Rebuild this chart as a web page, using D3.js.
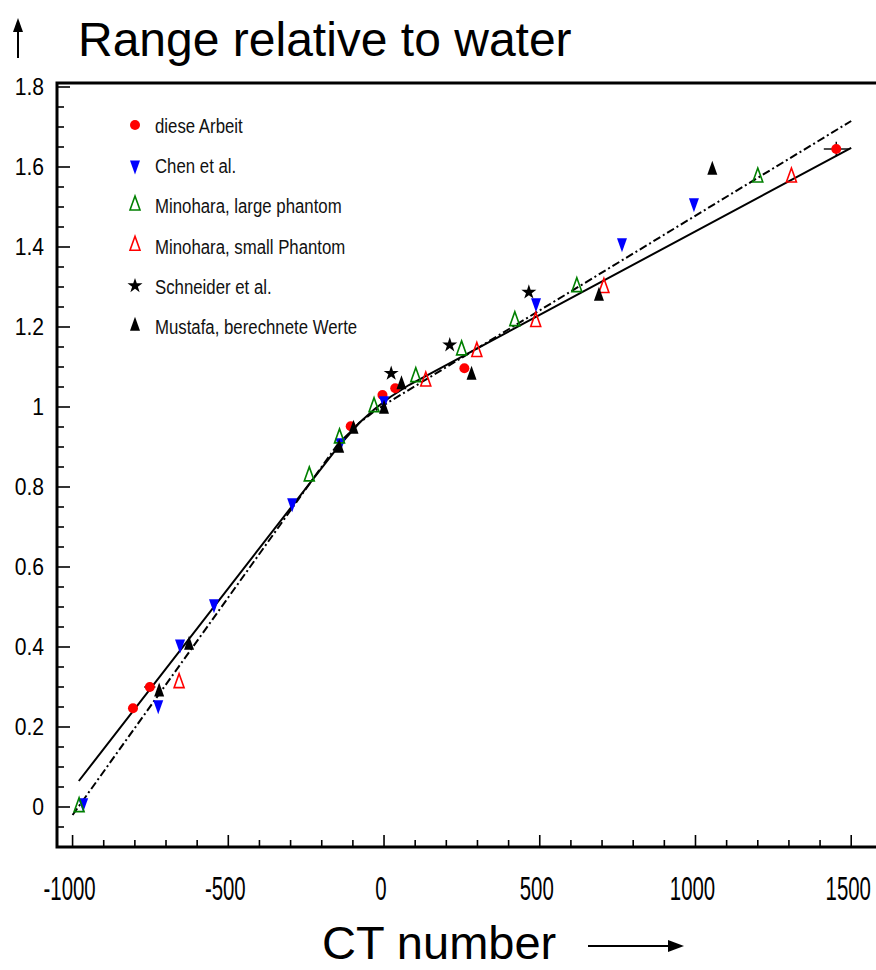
<!DOCTYPE html>
<html>
<head>
<meta charset="utf-8">
<script src="https://cdn.jsdelivr.net/npm/d3@7"></script>
<style>
  html, body { margin: 0; padding: 0; background: #fff; }
  svg { display: block; }
</style>
</head>
<body>
<svg id="chart" width="876" height="970"></svg>
<script>
// ---- data ---------------------------------------------------------------
const xTickValues = [-1000, -500, 0, 500, 1000, 1500];
const xTickLabels = ["-1000", "-500", "0", "500", "1000", "1500"];
const yTickValues = [0, 0.2, 0.4, 0.6, 0.8, 1.0, 1.2, 1.4, 1.6, 1.8];
const yTickLabels = ["0", "0.2", "0.4", "0.6", "0.8", "1", "1.2", "1.4", "1.6", "1.8"];

const seriesNames = [
  "diese Arbeit",
  "Chen et al.",
  "Minohara, large phantom",
  "Minohara, small Phantom",
  "Schneider et al.",
  "Mustafa, berechnete Werte"
];

// [CT number, range relative to water]
const dieseArbeit = [[-806, 0.247], [-752, 0.300], [-107, 0.952], [-5, 1.030], [36, 1.047], [258, 1.097], [1452, 1.645]];
const dieseArbeitErrX = [0, 18, 0, 0, 0, 0, 40];
const dieseArbeitErrY = [0, 0.012, 0, 0, 0, 0, 0.018];
const chen = [[-966, 0.010], [-725, 0.255], [-655, 0.407], [-546, 0.508], [-295, 0.760], [-140, 0.910], [0, 1.015], [488, 1.260], [764, 1.410], [995, 1.510]];
const minoharaLarge = [[-979, 0.000], [-240, 0.827], [-143, 0.922], [-32, 1.000], [102, 1.075], [249, 1.142], [420, 1.215], [619, 1.300], [1200, 1.574]];
const minoharaSmall = [[-658, 0.310], [134, 1.064], [298, 1.138], [487, 1.213], [706, 1.298], [1308, 1.574]];
const schneider = [[23, 1.084], [211, 1.155], [465, 1.287]];
const mustafa = [[-722, 0.288], [-626, 0.405], [-144, 0.897], [-98, 0.945], [0, 0.995], [56, 1.056], [281, 1.080], [690, 1.277], [1054, 1.592]];

// calibration curves
const solidFit = [[-980, 0.065], [-150, 0.898], [-80, 0.960], [-30, 0.995], [20, 1.025], [80, 1.055], [1500, 1.648]];
const dashedFit = [[-1000, -0.020], [-150, 0.905], [-80, 0.960], [-30, 0.990], [0, 1.005], [1500, 1.715]];

// ---- layout -------------------------------------------------------------
const svg = d3.select("#chart");
const plotLeft = 57, plotRight = 878, plotTop = 83, plotBottom = 847;

const x = d3.scaleLinear().domain([-1050, 1586]).range([plotLeft, plotRight]);
const y = d3.scaleLinear().domain([-0.1, 1.81]).range([plotBottom, plotTop]);

const sansFont = "'Liberation Sans', Arial, Helvetica, sans-serif";

// ---- marker shapes --------------------------------------------------------
function triPath(w, h, down) {
  const s = down ? -1 : 1;
  return `M0,${-s * h * 2 / 3}L${w / 2},${s * h / 3}L${-w / 2},${s * h / 3}Z`;
}
const starPath = d3.symbol().type(d3.symbolStar).size(70)();

const markerStyles = [
  { kind: "circle", fill: "#ff0000", stroke: "none" },
  { kind: "path", d: triPath(10, 14, true), fill: "#0000ff", stroke: "none" },
  { kind: "path", d: triPath(10, 14, false), fill: "none", stroke: "#008000" },
  { kind: "path", d: triPath(10, 14, false), fill: "none", stroke: "#ff0000" },
  { kind: "path", d: starPath, fill: "#000", stroke: "none" },
  { kind: "path", d: triPath(10, 14, false), fill: "#000", stroke: "none" }
];

function drawMarker(g, style) {
  if (style.kind === "circle") {
    g.append("circle").attr("r", 5).attr("fill", style.fill);
  } else {
    g.append("path").attr("d", style.d)
      .attr("fill", style.fill)
      .attr("stroke", style.stroke)
      .attr("stroke-width", style.stroke === "none" ? 0 : 1.6);
  }
}

// ---- frame and ticks ------------------------------------------------------
const frame = svg.append("g");
frame.append("path")
  .attr("d", `M${plotRight},${plotTop}H${plotLeft}V${plotBottom}H${plotRight}`)
  .attr("fill", "none").attr("stroke", "#000").attr("stroke-width", 3);

// y ticks (minor every 0.05, major every 0.2)
const yMinor = d3.range(-0.05, 1.8001, 0.05).map(v => +v.toFixed(2));
frame.selectAll("line.ytick").data(yMinor).join("line")
  .attr("class", "ytick")
  .attr("x1", plotLeft)
  .attr("x2", d => plotLeft + (yTickValues.some(t => Math.abs(t - d) < 1e-6) ? 13 : 7))
  .attr("y1", d => y(d)).attr("y2", d => y(d))
  .attr("stroke", "#000").attr("stroke-width", 1.6);

// x ticks (minor every 100, major every 500)
const xMinor = d3.range(-1000, 1501, 100);
frame.selectAll("line.xtick").data(xMinor).join("line")
  .attr("class", "xtick")
  .attr("x1", d => x(d)).attr("x2", d => x(d))
  .attr("y1", plotBottom)
  .attr("y2", d => plotBottom - (xTickValues.includes(d) ? 12 : 7))
  .attr("stroke", "#000").attr("stroke-width", 1.6);

// tick labels
svg.append("g").selectAll("text").data(yTickValues).join("text")
  .attr("transform", d => `translate(44,${y(d) + 8}) scale(0.88,1)`)
  .attr("text-anchor", "end")
  .attr("font-family", sansFont).attr("font-size", 24)
  .text((d, i) => yTickLabels[i]);

svg.append("g").selectAll("text").data(xTickValues).join("text")
  .attr("transform", d => `translate(${x(d) - 3},900) scale(0.6,1)`)
  .attr("text-anchor", "middle")
  .attr("font-family", sansFont).attr("font-size", 34)
  .text((d, i) => xTickLabels[i]);

// ---- fit lines ------------------------------------------------------------
const line = d3.line().x(d => x(d[0])).y(d => y(d[1]));
svg.append("path").datum(solidFit).attr("d", line)
  .attr("fill", "none").attr("stroke", "#000").attr("stroke-width", 2);
svg.append("path").datum(dashedFit).attr("d", line)
  .attr("fill", "none").attr("stroke", "#000").attr("stroke-width", 2)
  .attr("stroke-dasharray", "8,3,2,3");

// ---- data markers ----------------------------------------------------------
const allSeries = [dieseArbeit, chen, minoharaLarge, minoharaSmall, schneider, mustafa];

// error bars for own measurements
const errG = svg.append("g").attr("stroke", "#000").attr("stroke-width", 1.4);
dieseArbeit.forEach((d, i) => {
  if (dieseArbeitErrX[i] > 0) {
    errG.append("line")
      .attr("x1", x(d[0] - dieseArbeitErrX[i])).attr("x2", x(d[0] + dieseArbeitErrX[i]))
      .attr("y1", y(d[1])).attr("y2", y(d[1]));
  }
  if (dieseArbeitErrY[i] > 0) {
    errG.append("line")
      .attr("x1", x(d[0])).attr("x2", x(d[0]))
      .attr("y1", y(d[1] - dieseArbeitErrY[i])).attr("y2", y(d[1] + dieseArbeitErrY[i]));
  }
});

allSeries.forEach((data, si) => {
  const g = svg.append("g");
  data.forEach(d => {
    const m = g.append("g").attr("transform", `translate(${x(d[0])},${y(d[1])})`);
    drawMarker(m, markerStyles[si]);
  });
});

// ---- legend -----------------------------------------------------------------
const legend = svg.append("g");
seriesNames.forEach((name, i) => {
  const cy = 125 + i * 40.2;
  const m = legend.append("g").attr("transform", `translate(135,${cy})`);
  drawMarker(m, markerStyles[i]);
  legend.append("text")
    .attr("transform", `translate(155,${cy + 8}) scale(0.8,1)`)
    .attr("font-family", sansFont).attr("font-size", 21)
    .attr("fill", "#111")
    .text(name);
});

// ---- axis titles --------------------------------------------------------------
// vertical arrow before the y title
svg.append("line").attr("x1", 18).attr("x2", 18).attr("y1", 58).attr("y2", 30)
  .attr("stroke", "#000").attr("stroke-width", 2);
svg.append("path").attr("d", "M18,18L13,32L23,32Z").attr("fill", "#000");
svg.append("text").attr("x", 78).attr("y", 56)
  .attr("font-family", sansFont).attr("font-size", 48)
  .text("Range relative to water");

// x title with arrow
svg.append("text").attr("x", 322).attr("y", 959)
  .attr("font-family", sansFont).attr("font-size", 47)
  .text("CT number");
svg.append("line").attr("x1", 588).attr("x2", 670).attr("y1", 946).attr("y2", 946)
  .attr("stroke", "#000").attr("stroke-width", 2);
svg.append("path").attr("d", "M684,946L668,940L668,952Z").attr("fill", "#000");
</script>
</body>
</html>
